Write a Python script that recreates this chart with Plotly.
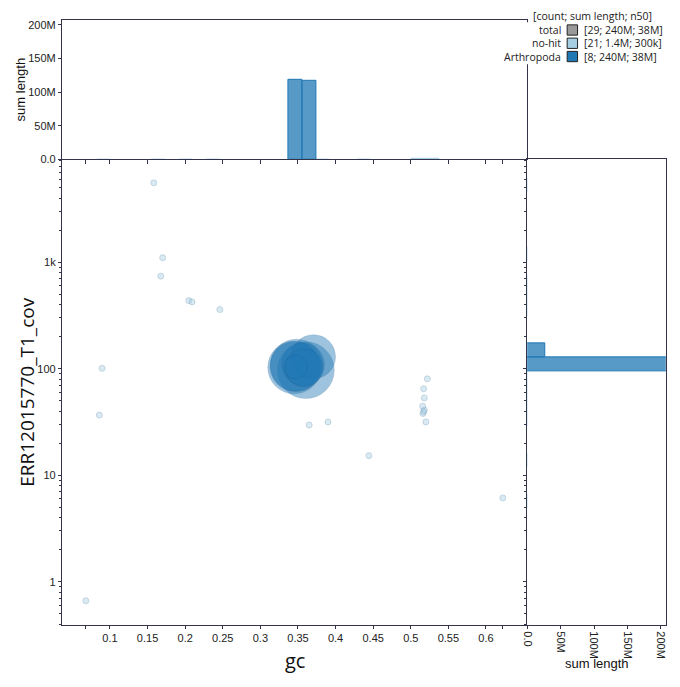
import numpy as np
import plotly.graph_objects as go

W, H = 680, 687

# ---------------- data ----------------
arth_gc = [0.3457, 0.3450, 0.3480, 0.3470, 0.3605, 0.3707, 0.3570, 0.3580]
arth_cov = [105, 103, 108, 104, 97, 130, 110, 102]
arth_len = [34e6, 39e6, 38e6, 8e6, 45e6, 27e6, 25e6, 20e6]

nohit_gc = [0.1583, 0.1701, 0.1675, 0.2049, 0.2092, 0.2461, 0.0895, 0.0859, 0.0680,
            0.3649, 0.3899, 0.4443, 0.6224, 0.5220, 0.5171, 0.5180, 0.5158, 0.5180,
            0.5162, 0.5201, 0.5170]
nohit_cov = [5570, 1106, 741, 437, 425, 360, 101, 36.8, 0.664,
             29.7, 31.7, 15.3, 6.14, 80.5, 65.0, 53.3, 44.6, 41.0,
             38.1, 31.7, 39.5]
nohit_len = [20e3, 15e3, 15e3, 25e3, 20e3, 30e3, 10e3, 10e3, 5e3,
             20e3, 25e3, 20e3, 10e3, 55e3, 300e3, 50e3, 40e3, 100e3,
             150e3, 400e3, 80e3]

categories = ["no-hit", "Arthropoda"]
cat_gc = {"no-hit": nohit_gc, "Arthropoda": arth_gc}
cat_cov = {"no-hit": nohit_cov, "Arthropoda": arth_cov}
cat_len = {"no-hit": nohit_len, "Arthropoda": arth_len}

x_tick_vals = [0.1, 0.15, 0.2, 0.25, 0.3, 0.35, 0.4, 0.45, 0.5, 0.55, 0.6]
x_tick_text = ["0.1", "0.15", "0.2", "0.25", "0.3", "0.35", "0.4", "0.45", "0.5", "0.55", "0.6"]
y_tick_vals = [1, 10, 100, 1000]
y_tick_text = ["1", "10", "100", "1k"]
len_tick_vals = [0, 50e6, 100e6, 150e6, 200e6]
len_tick_text = ["0.0", "50M", "100M", "150M", "200M"]

# ---------------- styles ----------------
fill = {"no-hit": "rgba(166,206,227,0.6)", "Arthropoda": "rgba(31,120,180,0.62)"}
edge = {"no-hit": "rgba(110,150,180,0.7)", "Arthropoda": "rgba(25,85,135,0.35)"}
hist_fill = {"no-hit": "rgba(166,206,227,0.8)", "Arthropoda": "rgba(31,120,180,0.75)"}
hist_edge = {"no-hit": "#a6cee3", "Arthropoda": "#1f78b4"}
legend_sq = {"total": "#999999", "no-hit": "#a6cee3", "Arthropoda": "#1f78b4"}
AX = "#33334a"
TICKFONT = dict(family="Liberation Sans, Arial, sans-serif", size=11, color="#222")

# pixel geometry
def fx(px):
    return px / W

def fy(py):
    return 1 - py / H

L_, R_, T_, B_ = 57, 526.7, 160, 630
TOP_T = 19
RIGHT_R = 666.7

x_range = [0.0368, 0.6549]
y_range = [-0.4015, 3.9665]
len_range = [0, 207.5e6]
gc_bin = 0.0182
gc_bin_start = 0.3375 - 18 * gc_bin
cov_bin = 0.129
cov_bin_start = 1.978 - 18 * cov_bin

k2 = 0.00846  # diameter px per sqrt(bp)
sizeref = 2.0 / (k2 ** 2)

fig = go.Figure()

# main scatter
for cat in ["Arthropoda", "no-hit"]:
    order = np.argsort(cat_len[cat])[::-1]
    g = np.array(cat_gc[cat])[order]
    c = np.array(cat_cov[cat])[order]
    l = np.array(cat_len[cat])[order]
    fig.add_trace(go.Scatter(
        x=g, y=c, mode="markers", name=cat, showlegend=False,
        marker=dict(size=l, sizemode="area", sizeref=sizeref, sizemin=3,
                    color=fill[cat], line=dict(color=edge[cat], width=0.7)),
        xaxis="x", yaxis="y", hoverinfo="skip"))

# top histogram
for cat in ["no-hit", "Arthropoda"]:
    fig.add_trace(go.Histogram(
        x=cat_gc[cat], y=cat_len[cat], histfunc="sum",
        xbins=dict(start=gc_bin_start, end=0.75, size=gc_bin),
        marker=dict(color=hist_fill[cat], line=dict(color=hist_edge[cat], width=1)),
        xaxis="x2", yaxis="y2", showlegend=False, hoverinfo="skip"))

# right histogram (log10 coverage on linear axis matching the main log axis)
for cat in ["no-hit", "Arthropoda"]:
    fig.add_trace(go.Histogram(
        y=np.log10(cat_cov[cat]), x=cat_len[cat], histfunc="sum", orientation="h",
        ybins=dict(start=cov_bin_start, end=4.5, size=cov_bin),
        marker=dict(color=hist_fill[cat], line=dict(color=hist_edge[cat], width=1)),
        xaxis="x3", yaxis="y3", showlegend=False, hoverinfo="skip"))

gc_all = cat_gc["no-hit"] + cat_gc["Arthropoda"]
ext_vals = x_tick_vals + [min(gc_all), max(gc_all)]
ext_text = x_tick_text + ["", ""]

minor_y = [m * 10 ** e for e in range(-1, 4) for m in range(2, 10)]
minor_y = [v for v in minor_y if y_range[0] <= np.log10(v) <= y_range[1]]

common = dict(showgrid=False, zeroline=False, showline=True, linecolor=AX, linewidth=1,
              ticks="outside", tickcolor=AX, ticklen=3.5, tickwidth=1, tickfont=TICKFONT)

fig.update_layout(
    width=W, height=H, margin=dict(l=0, r=0, t=0, b=0),
    paper_bgcolor="white", plot_bgcolor="white",
    barmode="overlay", bargap=0, showlegend=False,
    xaxis=dict(domain=[fx(L_), fx(R_)], range=x_range, anchor="y",
               tickvals=ext_vals, ticktext=ext_text, **common),
    yaxis=dict(domain=[fy(B_), fy(T_)], type="log", range=y_range, anchor="x",
               tickvals=y_tick_vals, ticktext=y_tick_text,
               minor=dict(tickvals=minor_y, ticks="outside", ticklen=2.5, tickcolor=AX),
               **common),
    xaxis2=dict(domain=[fx(L_), fx(R_)], range=x_range, anchor="y2", matches="x",
                tickvals=ext_vals, showticklabels=False, mirror=True, **common),
    yaxis2=dict(domain=[fy(T_), fy(TOP_T)], range=len_range, anchor="x2",
                tickvals=len_tick_vals, ticktext=len_tick_text, mirror=True, **common),
    xaxis3=dict(domain=[fx(R_), fx(RIGHT_R)], range=len_range, anchor="y3",
                tickvals=len_tick_vals, ticktext=len_tick_text, tickangle=90,
                mirror=True, **common),
    yaxis3=dict(domain=[fy(B_), fy(T_)], range=y_range, anchor="x3",
                tickvals=list(np.log10(y_tick_vals)), showticklabels=False,
                minor=dict(tickvals=list(np.log10(minor_y)), ticks="outside", ticklen=2.5,
                           tickcolor=AX),
                mirror=True, **common),
)

TITLEFONT = dict(family="Open Sans, Noto Sans, sans-serif", size=20, color="#111")
YTITLEFONT = dict(family="Open Sans, Noto Sans, sans-serif", size=19, color="#111")
SMALLTITLE = dict(family="Liberation Sans, Arial, sans-serif", size=13, color="#111")
ann = []
ann.append(dict(text="gc", x=fx((L_ + R_) / 2), y=fy(666), xref="paper", yref="paper",
                showarrow=False, font=TITLEFONT, xanchor="center", yanchor="middle"))
ann.append(dict(text="ERR12015770_T1_cov", x=fx(21), y=fy((T_ + B_) / 2), xref="paper",
                yref="paper", showarrow=False, font=YTITLEFONT, textangle=-90,
                xanchor="center", yanchor="middle"))
ann.append(dict(text="sum length", x=fx(15), y=fy((TOP_T + T_) / 2), xref="paper",
                yref="paper", showarrow=False, font=SMALLTITLE, textangle=-90,
                xanchor="center", yanchor="middle"))
ann.append(dict(text="sum length", x=fx(597), y=fy(669), xref="paper", yref="paper",
                showarrow=False, font=SMALLTITLE, xanchor="center", yanchor="middle"))


# legend
def si2(v):
    for thr, suf in [(1e9, "G"), (1e6, "M"), (1e3, "k"), (1, "")]:
        if abs(v) >= thr:
            x = v / thr
            return f"{float(f'{x:.2g}'):g}{suf}"
    return f"{v:.2g}"


def n50(lengths):
    s = sorted(lengths, reverse=True)
    half = sum(s) / 2
    cum = 0
    for v in s:
        cum += v
        if cum >= half:
            return v
    return 0


all_len = cat_len["no-hit"] + cat_len["Arthropoda"]
rows = [("total", all_len)] + [(c, cat_len[c]) for c in categories]
LEGFONT = dict(family="Open Sans, Noto Sans, sans-serif", size=10.5, color="#222")
shapes = [dict(type="rect", xref="paper", yref="paper", x0=fx(505), x1=fx(680),
               y0=fy(64), y1=fy(21.5), fillcolor="white", line=dict(width=0),
               layer="above")]
ann.append(dict(text="[count; sum length; n50]", x=fx(655), y=fy(15.5), xref="paper",
                yref="paper", showarrow=False, font=LEGFONT, xanchor="right",
                yanchor="middle"))
for i, (name, lens) in enumerate(rows):
    yc = 29.3 + i * 13.4
    ann.append(dict(text=name, x=fx(563), y=fy(yc), xref="paper", yref="paper",
                    showarrow=False, font=LEGFONT, xanchor="right", yanchor="middle"))
    ann.append(dict(text=f"[{len(lens)}; {si2(sum(lens))}; {si2(n50(lens))}]",
                    x=fx(582), y=fy(yc), xref="paper", yref="paper", showarrow=False,
                    font=LEGFONT, xanchor="left", yanchor="middle"))
    shapes.append(dict(type="rect", xref="paper", yref="paper", x0=fx(567), x1=fx(577.5),
                       y0=fy(yc + 5.2), y1=fy(yc - 5.2), fillcolor=legend_sq[name],
                       line=dict(color="#222", width=1), layer="above"))

fig.update_layout(annotations=ann, shapes=shapes)
fig.write_html("out.html")
